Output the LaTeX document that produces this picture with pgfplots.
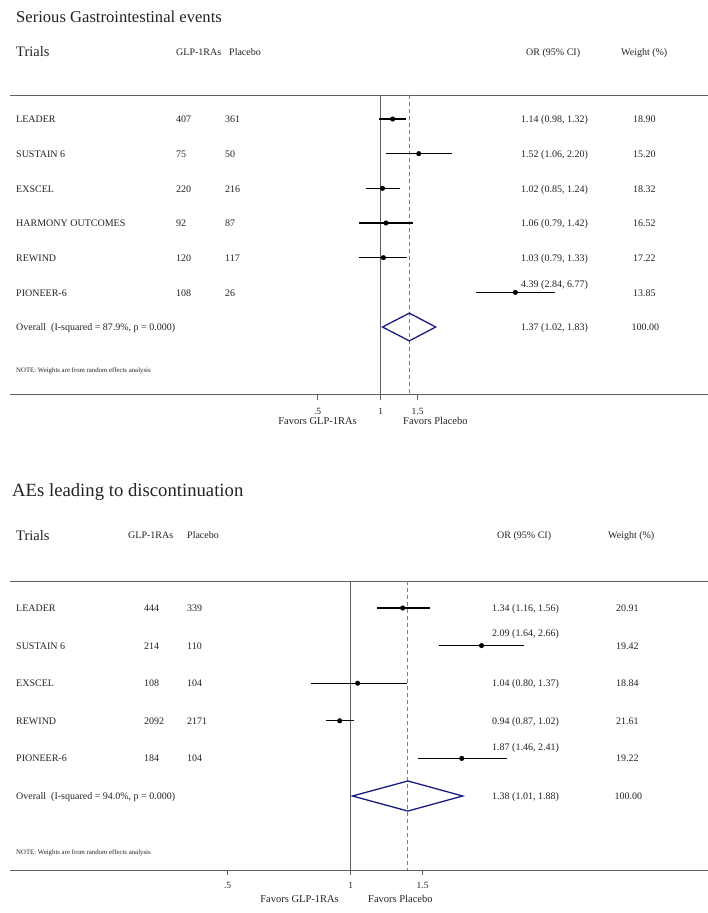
\documentclass[border=0pt]{standalone}
\usepackage{fontspec}
\setmainfont{Liberation Serif}
\usepackage{pgfplots}
\pgfplotsset{compat=1.18}
\definecolor{navy}{RGB}{26,26,128}
\definecolor{refred}{RGB}{215,85,105}
\definecolor{txt}{RGB}{35,35,35}
\definecolor{rule}{RGB}{95,95,95}
\begin{document}
\begin{tikzpicture}[x=1pt,y=-1pt,
  lab/.style={anchor=base west, inner sep=0pt, text=txt, font=\fontsize{10}{12}\selectfont},
  labr/.style={anchor=base east, inner sep=0pt, text=txt, font=\fontsize{10.5}{12}\selectfont},
  labl/.style={anchor=base west, inner sep=0pt, text=txt, font=\fontsize{10.5}{12}\selectfont},
  hdr/.style={anchor=base west, inner sep=0pt, text=txt, font=\fontsize{14.5}{17}\selectfont},
  note/.style={anchor=base west, inner sep=0pt, text=txt, font=\fontsize{6.8}{8}\selectfont}]
\useasboundingbox (0,0) rectangle (708,913);
% ================= Panel 1 =================
\node[anchor=base west, inner sep=0pt, text=txt, font=\fontsize{16.6}{20}\selectfont] at (16,22.5) {Serious Gastrointestinal events};
\node[hdr] at (16,56.5) {Trials};
\node[lab] at (176,55) {GLP-1RAs};
\node[lab] at (229,55) {Placebo};
\node[lab] at (526,55) {OR (95\% CI)};
\node[lab] at (621,55) {Weight (\%)};
\draw[draw=rule, line width=1pt] (10,95) -- (708,95);
\begin{axis}[xmode=log, at={(10pt,-394.5pt)}, anchor=south west,
  scale only axis, width=698pt, height=299.5pt,
  xmin=0.01702, xmax=36.48, ymin=0.308, ymax=8.947, y dir=reverse,
  axis x line*=bottom, axis y line=none,
  x axis line style={-, draw=rule, line width=1pt},
  xtick={0.5,1,1.5}, xticklabels={.5,1,1.5}, xminorticks=false,
  tick align=outside, major tick length=5pt,
  every tick/.style={draw=rule, line width=1pt},
  xticklabel style={font=\fontsize{9.5}{11}\selectfont, text=txt, anchor=base, yshift=-15pt},
  clip=false]
\addplot[draw=rule, line width=1pt] coordinates {(1,0.308) (1,8.947)};
\addplot[color=refred, line width=1.2pt, dashed, dash pattern=on 4pt off 3pt] coordinates {(1.37,0.308) (1.37,8.947)};
\addplot[draw=black, line width=1.3pt] coordinates {(0.98,1) (1.32,1)};
\addplot[draw=black, line width=1.3pt] coordinates {(1.06,2) (2.20,2)};
\addplot[draw=black, line width=1.3pt] coordinates {(0.85,3) (1.24,3)};
\addplot[draw=black, line width=1.3pt] coordinates {(0.79,4) (1.42,4)};
\addplot[draw=black, line width=1.3pt] coordinates {(0.79,5) (1.33,5)};
\addplot[draw=black, line width=1.3pt] coordinates {(2.84,6) (6.77,6)};
\addplot[only marks, mark=*, mark size=2.3pt, black] coordinates {(1.14,1) (1.52,2) (1.02,3) (1.06,4) (1.03,5) (4.39,6)};
\addplot[draw=navy, line width=1.3pt, line join=miter] coordinates {(1.02,7) (1.37,6.6) (1.83,7) (1.37,7.4) (1.02,7) (1.37,6.6)};
\draw[draw=rule, line width=1pt] (axis cs:0.5,8.947) -- ++(0pt,-5pt);
\draw[draw=rule, line width=1pt] (axis cs:1,8.947) -- ++(0pt,-5pt);
\draw[draw=rule, line width=1pt] (axis cs:1.5,8.947) -- ++(0pt,-5pt);
\end{axis}
% rows
\node[lab] at (16,122.8) {LEADER};
\node[lab] at (16,157.5) {SUSTAIN 6};
\node[lab] at (16,192.1) {EXSCEL};
\node[lab] at (16,226.8) {HARMONY OUTCOMES};
\node[lab] at (16,261.4) {REWIND};
\node[lab] at (16,296.1) {PIONEER-6};
\node[lab] at (16,330.7) {Overall\ \ (I-squared = 87.9\%, p = 0.000)};
\node[lab] at (176,122.8) {407};  \node[lab] at (225,122.8) {361};
\node[lab] at (176,157.5) {75};   \node[lab] at (225,157.5) {50};
\node[lab] at (176,192.1) {220};  \node[lab] at (225,192.1) {216};
\node[lab] at (176,226.8) {92};   \node[lab] at (225,226.8) {87};
\node[lab] at (176,261.4) {120};  \node[lab] at (225,261.4) {117};
\node[lab] at (176,296.1) {108};  \node[lab] at (225,296.1) {26};
\node[lab] at (521,122.8) {1.14 (0.98, 1.32)};
\node[lab] at (521,157.5) {1.52 (1.06, 2.20)};
\node[lab] at (521,192.1) {1.02 (0.85, 1.24)};
\node[lab] at (521,226.8) {1.06 (0.79, 1.42)};
\node[lab] at (521,261.4) {1.03 (0.79, 1.33)};
\node[lab] at (521,287.5) {4.39 (2.84, 6.77)};
\node[lab] at (521,330.7) {1.37 (1.02, 1.83)};
\node[lab] at (633,122.8) {18.90};
\node[lab] at (633,157.5) {15.20};
\node[lab] at (633,192.1) {18.32};
\node[lab] at (633,226.8) {16.52};
\node[lab] at (633,261.4) {17.22};
\node[lab] at (633,296.1) {13.85};
\node[lab] at (631.5,330.7) {100.00};
\node[note] at (16,372.3) {NOTE: Weights are from random effects analysis};
\node[labr] at (357,424) {Favors GLP-1RAs};
\node[labl] at (403,424) {Favors Placebo};
% ================= Panel 2 =================
\node[anchor=base west, inner sep=0pt, text=txt, font=\fontsize{18.7}{22}\selectfont] at (12,496) {AEs leading to discontinuation};
\node[hdr] at (16,540) {Trials};
\node[lab] at (128,538) {GLP-1RAs};
\node[lab] at (187,538) {Placebo};
\node[lab] at (497,538) {OR (95\% CI)};
\node[lab] at (608,538) {Weight (\%)};
\draw[draw=rule, line width=1pt] (10,581) -- (708,581);
\begin{axis}[xmode=log, at={(10pt,-870pt)}, anchor=south west,
  scale only axis, width=698pt, height=289pt,
  xmin=0.1467, xmax=7.486, ymin=0.282, ymax=7.968, y dir=reverse,
  axis x line*=bottom, axis y line=none,
  x axis line style={-, draw=rule, line width=1pt},
  xtick={0.5,1,1.5}, xticklabels={.5,1,1.5}, xminorticks=false,
  tick align=outside, major tick length=5pt,
  every tick/.style={draw=rule, line width=1pt},
  xticklabel style={font=\fontsize{9.5}{11}\selectfont, text=txt, anchor=base, yshift=-13pt},
  clip=false]
\addplot[draw=rule, line width=1pt] coordinates {(1,0.282) (1,7.968)};
\addplot[color=refred, line width=1.2pt, dashed, dash pattern=on 4pt off 3pt] coordinates {(1.38,0.282) (1.38,7.968)};
\addplot[draw=black, line width=1.3pt] coordinates {(1.16,1) (1.56,1)};
\addplot[draw=black, line width=1.3pt] coordinates {(1.64,2) (2.66,2)};
\addplot[draw=black, line width=1.3pt] coordinates {(0.80,3) (1.37,3)};
\addplot[draw=black, line width=1.3pt] coordinates {(0.87,4) (1.02,4)};
\addplot[draw=black, line width=1.3pt] coordinates {(1.46,5) (2.41,5)};
\addplot[only marks, mark=*, mark size=2.3pt, black] coordinates {(1.34,1) (2.09,2) (1.04,3) (0.94,4) (1.87,5)};
\addplot[draw=navy, line width=1.3pt, line join=miter] coordinates {(1.01,6) (1.38,5.6) (1.88,6) (1.38,6.4) (1.01,6) (1.38,5.6)};
\draw[draw=rule, line width=1pt] (axis cs:0.5,7.968) -- ++(0pt,-5pt);
\draw[draw=rule, line width=1pt] (axis cs:1,7.968) -- ++(0pt,-5pt);
\draw[draw=rule, line width=1pt] (axis cs:1.5,7.968) -- ++(0pt,-5pt);
\end{axis}
\node[lab] at (16,611.5) {LEADER};
\node[lab] at (16,649.1) {SUSTAIN 6};
\node[lab] at (16,686.7) {EXSCEL};
\node[lab] at (16,724.3) {REWIND};
\node[lab] at (16,761.9) {PIONEER-6};
\node[lab] at (16,799.5) {Overall\ \ (I-squared = 94.0\%, p = 0.000)};
\node[lab] at (144,611.5) {444};  \node[lab] at (187,611.5) {339};
\node[lab] at (144,649.1) {214};  \node[lab] at (187,649.1) {110};
\node[lab] at (144,686.7) {108};  \node[lab] at (187,686.7) {104};
\node[lab] at (144,724.3) {2092}; \node[lab] at (187,724.3) {2171};
\node[lab] at (144,761.9) {184};  \node[lab] at (187,761.9) {104};
\node[lab] at (492,611.5) {1.34 (1.16, 1.56)};
\node[lab] at (492,636.5) {2.09 (1.64, 2.66)};
\node[lab] at (492,686.7) {1.04 (0.80, 1.37)};
\node[lab] at (492,724.3) {0.94 (0.87, 1.02)};
\node[lab] at (492,750.5) {1.87 (1.46, 2.41)};
\node[lab] at (492,799.5) {1.38 (1.01, 1.88)};
\node[lab] at (616,611.5) {20.91};
\node[lab] at (616,649.1) {19.42};
\node[lab] at (616,686.7) {18.84};
\node[lab] at (616,724.3) {21.61};
\node[lab] at (616,761.9) {19.22};
\node[lab] at (614.5,799.5) {100.00};
\node[note] at (16,854.3) {NOTE: Weights are from random effects analysis};
\node[labr] at (339,902.3) {Favors GLP-1RAs};
\node[labl] at (368,902.3) {Favors Placebo};
\end{tikzpicture}
\end{document}
